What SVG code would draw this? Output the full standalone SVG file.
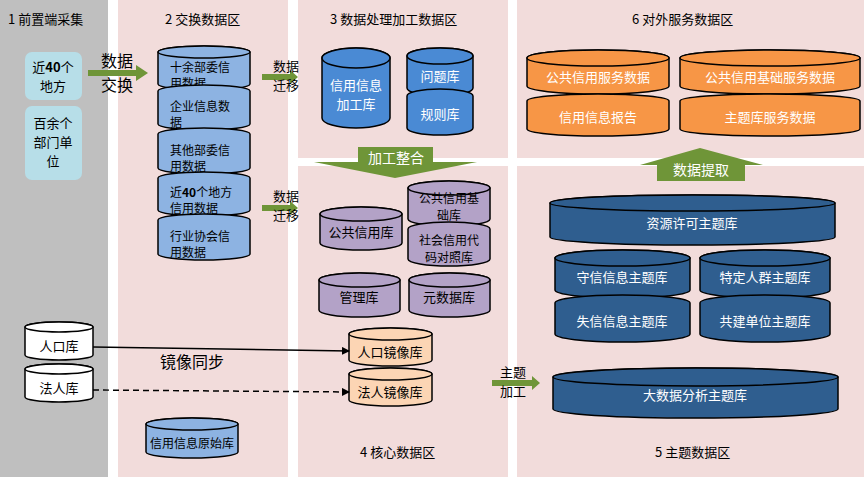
<svg xmlns="http://www.w3.org/2000/svg" width="864" height="477" viewBox="0 0 864 477">
<style>
text{font-family:"Noto Sans CJK SC","Liberation Sans",sans-serif;fill:#000}
.c path,.c ellipse{stroke:#000;stroke-width:1.5}
.lb path,.lb ellipse{fill:#8db3e2}
.mb path,.mb ellipse{fill:#4a8ad4}
.pu path,.pu ellipse{fill:#b3a2c7}
.lo path,.lo ellipse{fill:#fcd5b4}
.or path,.or ellipse{fill:#f79646}
.db path,.db ellipse{fill:#2f5e8f}
.w{fill:#fff}
.t{font-size:13px}
.s{font-size:12px}
.n{font-size:13px;text-anchor:middle}
.m{font-size:12px;text-anchor:middle}
.g{fill:#6f9538}
</style>
<defs>
<marker id="ah" markerWidth="8" markerHeight="8" refX="7" refY="4" orient="auto" markerUnits="userSpaceOnUse"><path d="M0,0L8,4L0,8z" fill="#000"/></marker>
</defs>
<g id="panels">
<rect x="0" y="0" width="108" height="477" fill="#bfbfbf"/>
<rect x="118" y="0" width="170" height="477" fill="#f2dcdb"/>
<rect x="298" y="0" width="210" height="158" fill="#f2dcdb"/>
<rect x="298" y="166" width="210" height="311" fill="#f2dcdb"/>
<rect x="517" y="0" width="347" height="158" fill="#f2dcdb"/>
<rect x="517" y="166" width="347" height="311" fill="#f2dcdb"/>
<text class="t" x="8" y="24">1 前置端采集</text>
<text class="t" x="165" y="24">2 交换数据区</text>
<text class="t" x="330" y="24">3 数据处理加工数据区</text>
<text class="t" x="632" y="24">6 对外服务数据区</text>
<text class="t" x="360" y="457">4 核心数据区</text>
<text class="t" x="655" y="457">5 主题数据区</text>
</g>
<g id="n-local"><rect x="25" y="52" width="57" height="48" rx="7" fill="#b7dee8"/><text class="n" x="53" y="72">近<tspan font-weight="bold">40</tspan>个</text><text class="n" x="53" y="91">地方</text></g>
<g id="n-dept"><rect x="25" y="106" width="57" height="74" rx="7" fill="#b7dee8"/><text class="n" x="53" y="128">百余个</text><text class="n" x="53" y="147">部门单</text><text class="n" x="53" y="166">位</text></g>
<g id="stack2" class="c lb">
<g id="n-s1"><path d="M158,52a46,6 0 0 1 92,0v32a46,6 0 0 1 -92,0z"/><ellipse cx="204" cy="52" rx="46" ry="6"/><text class="s" x="170" y="72">十余部委信</text><text class="s" x="170" y="88">用数据</text></g>
<g id="n-s2"><path d="M158,91a46,6 0 0 1 92,0v33a46,6 0 0 1 -92,0z"/><text class="s" x="170" y="111">企业信息数</text><text class="s" x="170" y="127">据</text></g>
<g id="n-s3"><path d="M158,134a46,6 0 0 1 92,0v34a46,6 0 0 1 -92,0z"/><text class="s" x="170" y="155">其他部委信</text><text class="s" x="170" y="171">用数据</text></g>
<g id="n-s4"><path d="M158,178a46,6 0 0 1 92,0v32a46,6 0 0 1 -92,0z"/><text class="s" x="170" y="197">近<tspan font-weight="bold">40</tspan>个地方</text><text class="s" x="170" y="213">信用数据</text></g>
<g id="n-s5"><path d="M158,220a46,6 0 0 1 92,0v34a46,6 0 0 1 -92,0z"/><text class="s" x="170" y="241">行业协会信</text><text class="s" x="170" y="257">用数据</text></g>
</g>
<g id="n-raw" class="c lb"><path d="M146,424a46,6 0 0 1 92,0v28a46,6 0 0 1 -92,0z"/><ellipse cx="192" cy="424" rx="46" ry="6"/><text class="m" x="192" y="448">信用信息原始库</text></g>
<g id="n-pop" class="c"><path d="M25,327a34,5 0 0 1 68,0v28a34,5 0 0 1 -68,0z" fill="#fff"/><ellipse cx="59" cy="327" rx="34" ry="5" fill="#fff"/><text class="n" x="59" y="351">人口库</text></g>
<g id="n-legal" class="c"><path d="M25,369a34,5 0 0 1 68,0v28a34,5 0 0 1 -68,0z" fill="#fff"/><ellipse cx="59" cy="369" rx="34" ry="5" fill="#fff"/><text class="n" x="59" y="393">法人库</text></g>
<g id="n-proc" class="c mb"><path d="M322,58a34,10 0 0 1 68,0v60a34,10 0 0 1 -68,0z"/><ellipse cx="356" cy="58" rx="34" ry="10"/><text class="n w" x="356" y="90">信用信息</text><text class="n w" x="356" y="109">加工库</text></g>
<g id="n-q" class="c mb"><path d="M407,56a33,8 0 0 1 66,0v32a33,8 0 0 1 -66,0z"/><ellipse cx="440" cy="56" rx="33" ry="8"/><text class="n w" x="440" y="81">问题库</text></g>
<g id="n-r" class="c mb"><path d="M407,96a33,7 0 0 1 66,0v32a33,7 0 0 1 -66,0z"/><text class="n w" x="440" y="119">规则库</text></g>
<g id="n-pub" class="c pu"><path d="M320,214a41,7 0 0 1 82,0v29a41,7 0 0 1 -82,0z"/><ellipse cx="361" cy="214" rx="41" ry="7"/><text class="n" x="361" y="237">公共信用库</text></g>
<g id="n-base" class="c pu"><path d="M408,188a41,7 0 0 1 82,0v31a41,7 0 0 1 -82,0z"/><ellipse cx="449" cy="188" rx="41" ry="7"/><text class="m" x="449" y="203">公共信用基</text><text class="m" x="449" y="220">础库</text></g>
<g id="n-code" class="c pu"><path d="M408,229a41,7 0 0 1 82,0v30a41,7 0 0 1 -82,0z"/><text class="m" x="449" y="245">社会信用代</text><text class="m" x="449" y="262">码对照库</text></g>
<g id="n-mgr" class="c pu"><path d="M319,280a40,7 0 0 1 81,0v30a40,7 0 0 1 -81,0z"/><ellipse cx="359.5" cy="280" rx="40.5" ry="7"/><text class="n" x="359" y="302">管理库</text></g>
<g id="n-meta" class="c pu"><path d="M409,280a40,7 0 0 1 81,0v30a40,7 0 0 1 -81,0z"/><ellipse cx="449.5" cy="280" rx="40.5" ry="7"/><text class="n" x="449" y="302">元数据库</text></g>
<g id="n-popm" class="c lo"><path d="M349,334a41,6 0 0 1 83,0v26a41,6 0 0 1 -83,0z"/><ellipse cx="390.5" cy="334" rx="41.5" ry="6"/><text class="n" x="390" y="357">人口镜像库</text></g>
<g id="n-legm" class="c lo"><path d="M349,374a41,6 0 0 1 83,0v26a41,6 0 0 1 -83,0z"/><ellipse cx="390.5" cy="374" rx="41.5" ry="6"/><text class="n" x="390" y="397">法人镜像库</text></g>
<g id="n-svc1" class="c or"><path d="M527,58a71,8 0 0 1 142,0v28a71,8 0 0 1 -142,0z"/><ellipse cx="598" cy="58" rx="71" ry="8"/><text class="n w" x="598" y="82">公共信用服务数据</text></g>
<g id="n-svc2" class="c or"><path d="M527,101a71,7 0 0 1 142,0v28a71,7 0 0 1 -142,0z"/><text class="n w" x="598" y="122">信用信息报告</text></g>
<g id="n-svc3" class="c or"><path d="M680,58a90,8 0 0 1 180,0v28a90,8 0 0 1 -180,0z"/><ellipse cx="770" cy="58" rx="90" ry="8"/><text class="n w" x="770" y="82">公共信用基础服务数据</text></g>
<g id="n-svc4" class="c or"><path d="M680,101a90,7 0 0 1 180,0v28a90,7 0 0 1 -180,0z"/><text class="n w" x="770" y="122">主题库服务数据</text></g>
<g id="n-res" class="c db"><path d="M550,203a142,8 0 0 1 285,0v34a142,8 0 0 1 -285,0z"/><ellipse cx="692.5" cy="203" rx="142.5" ry="8"/><text class="n w" x="692" y="228">资源许可主题库</text></g>
<g id="n-keep" class="c db"><path d="M555,258a67,8 0 0 1 135,0v32a67,8 0 0 1 -135,0z"/><ellipse cx="622.5" cy="258" rx="67.5" ry="8"/><text class="n w" x="622" y="282">守信信息主题库</text></g>
<g id="n-lose" class="c db"><path d="M555,303a67,8 0 0 1 135,0v31a67,8 0 0 1 -135,0z"/><text class="n w" x="622" y="326">失信信息主题库</text></g>
<g id="n-spec" class="c db"><path d="M700,258a65,8 0 0 1 130,0v32a65,8 0 0 1 -130,0z"/><ellipse cx="765" cy="258" rx="65" ry="8"/><text class="n w" x="765" y="282">特定人群主题库</text></g>
<g id="n-co" class="c db"><path d="M700,303a65,8 0 0 1 130,0v31a65,8 0 0 1 -130,0z"/><text class="n w" x="765" y="326">共建单位主题库</text></g>
<g id="n-big" class="c db"><path d="M553,377a142,9 0 0 1 285,0v32a142,9 0 0 1 -285,0z"/><ellipse cx="695.5" cy="377" rx="142.5" ry="9"/><text class="n w" x="695" y="400">大数据分析主题库</text></g>
<g id="connectors">
<path class="g" d="M88,70h48v-5l12,8l-12,8v-5h-48z"/>
<text x="101" y="67" font-size="16">数据</text><text x="101" y="91" font-size="16">交换</text>
<path class="g" d="M262,74h28v-4l8,7l-8,7v-4h-28z"/>
<text x="273" y="71" font-size="13">数据</text><text x="273" y="90" font-size="13">迁移</text>
<path class="g" d="M262,205h28v-4l8,7l-8,7v-4h-28z"/>
<text x="273" y="201" font-size="13">数据</text><text x="273" y="220" font-size="13">迁移</text>
<path class="g" d="M492,380h40v-4l8,7l-8,7v-4h-40z"/>
<text x="500" y="377" font-size="13">主题</text><text x="500" y="396" font-size="13">加工</text>
<path class="g" d="M358,147h75v15h44l-82,16l-81,-16h44z"/>
<text x="396" y="163" font-size="14" text-anchor="middle" style="fill:#fff">加工整合</text>
<path class="g" d="M700,148l63,17h-18v16h-88v-16h-17z"/>
<text x="701" y="175" font-size="14" text-anchor="middle" style="fill:#fff">数据提取</text>
<line x1="93" y1="347" x2="349" y2="351" stroke="#000" stroke-width="1.5" marker-end="url(#ah)"/>
<line x1="93" y1="390" x2="349" y2="392" stroke="#000" stroke-width="1.5" stroke-dasharray="6,4" marker-end="url(#ah)"/>
<text x="160" y="368" font-size="16">镜像同步</text>
</g>
</svg>
